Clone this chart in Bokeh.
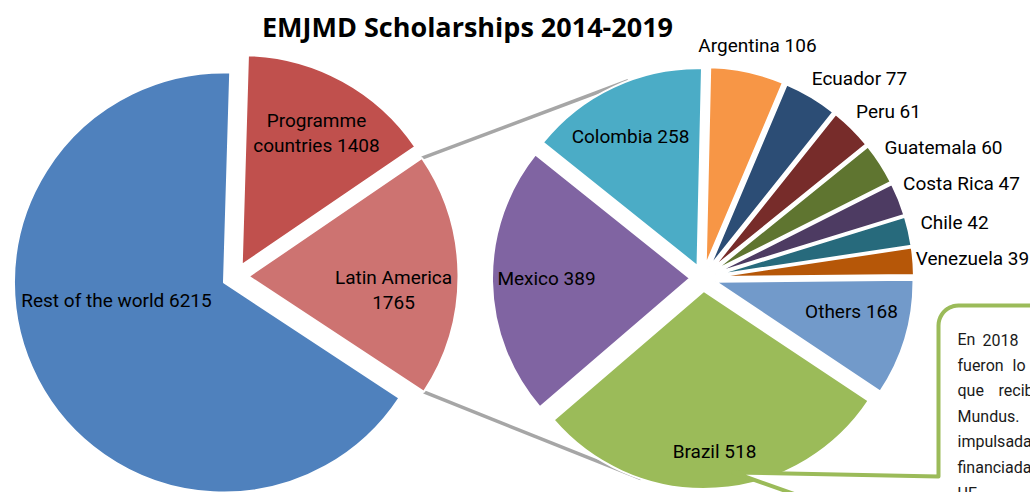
import numpy as np
from bokeh.plotting import figure
from bokeh.models import Range1d, ColumnDataSource
from bokeh.core.properties import value
from bokeh.embed import file_html
from bokeh.resources import INLINE

# ---------------- data ----------------
title = "EMJMD Scholarships 2014-2019"

main_categories = ["Programme countries", "Latin America", "Rest of the world"]
main_values = [1408, 1765, 6215]
main_colors = ["#C0504D", "#CD7371", "#4F81BD"]

latam_categories = ["Argentina", "Ecuador", "Peru", "Guatemala", "Costa Rica",
                    "Chile", "Venezuela", "Others", "Brazil", "Mexico", "Colombia"]
latam_values = [106, 77, 61, 60, 47, 42, 39, 168, 518, 389, 258]
latam_colors = ["#F79646", "#2C4D75", "#772C2A", "#5F7530", "#4D3B62",
                "#276A7C", "#B65708", "#729ACA", "#9BBB59", "#8064A2", "#4BACC6"]

callout_words = [["En", "2018"], ["fueron", "lo"], ["que", "recib"], ["Mundus."],
                 ["impulsada"], ["financiada"], ["UE"]]

# ---------------- layout / style ----------------
W, H = 1030, 492
FONT = "Roboto"


def sy(y):  # screen y -> data y
    return H - y


def slices(values, cx, cy, r, start_deg, explode):
    vals = np.array(values, dtype=float)
    frac = vals / vals.sum()
    lo = start_deg - np.cumsum(frac) * 360.0  # clockwise order
    hi = lo + frac * 360.0
    mid = (lo + hi) / 2.0
    x = cx + explode * np.cos(np.radians(mid))
    y = cy + explode * np.sin(np.radians(mid))
    return dict(x=x, y=y, lo=lo, hi=hi, mid=mid, r=r)


L = slices(main_values, 235, sy(276), 210, 88.3, 13)
R = slices(latam_values, 702.5, sy(277.5), 198, 88.7, 13)

p = figure(width=W, height=H, x_range=Range1d(0, W), y_range=Range1d(0, H),
           min_border=0, toolbar_location=None, output_backend="svg",
           x_axis_type=None, y_axis_type=None, background_fill_color="white",
           border_fill_color="white")
p.grid.visible = False
p.outline_line_color = None

# connector lines (from Latin America slice corners to the secondary pie)
ila = main_categories.index("Latin America")
icol = latam_categories.index("Colombia")
ibra = latam_categories.index("Brazil")
a_hi = np.radians(L["hi"][ila])
a_lo = np.radians(L["lo"][ila])
up_start = (L["x"][ila] + L["r"] * np.cos(a_hi), L["y"][ila] + L["r"] * np.sin(a_hi))
lo_start = (L["x"][ila] + L["r"] * np.cos(a_lo), L["y"][ila] + L["r"] * np.sin(a_lo))
t_up, t_lo = np.radians(110.5), np.radians(251.5)
up_end = (R["x"][icol] + R["r"] * np.cos(t_up), R["y"][icol] + R["r"] * np.sin(t_up))
lo_end = (R["x"][ibra] + R["r"] * np.cos(t_lo), R["y"][ibra] + R["r"] * np.sin(t_lo))
p.segment(x0=[up_start[0], lo_start[0]], y0=[up_start[1], lo_start[1]],
          x1=[up_end[0], lo_end[0]], y1=[up_end[1], lo_end[1]],
          line_color="#A6A6A6", line_width=3.5)

# pies
for S, colors in ((L, main_colors), (R, latam_colors)):
    src = ColumnDataSource(dict(x=S["x"], y=S["y"], s=np.radians(S["lo"]),
                                e=np.radians(S["hi"]), c=colors))
    p.wedge(x="x", y="y", radius=S["r"], start_angle="s", end_angle="e",
            direction="anticlock", fill_color="c", line_color="white",
            line_width=2, source=src)

# callout box (speech bubble)
box_left, box_top, rad = 938, 305, 20
arc_t = np.linspace(np.pi / 2, np.pi, 12)
arc_x = box_left + rad + rad * np.cos(arc_t)
arc_y = box_top + rad - rad * np.sin(arc_t)
px = [1045, box_left + rad] + list(arc_x) + [box_left, box_left, 733, 812, 1045]
py = [box_top, box_top] + list(arc_y) + [box_top + rad, 476, 472, 500, 500]
p.patch(x=px, y=[sy(v) for v in py], fill_color="white", line_color="#9BBB59",
        line_width=4, line_join="round")

# callout text (justified lines, cut by the page edge as in the original)
second_x = {0: 982, 1: 1012, 2: 998}
cx_, cy_, ct_ = [], [], []
for i, words in enumerate(callout_words):
    yy = 339 + i * 25.6
    cx_.append(957); cy_.append(sy(yy)); ct_.append(words[0])
    if len(words) > 1:
        cx_.append(second_x[i]); cy_.append(sy(yy)); ct_.append(words[1])
p.text(x=cx_, y=cy_, text=ct_, text_font=value(FONT), text_font_size="16px",
       text_color="#1A1A1A", text_align="left", text_baseline="middle")

# data labels
label_pos = {
    "Programme countries": (316, 120), "Latin America": (393, 277),
    "Rest of the world": (116, 300), "Colombia": (630, 136), "Mexico": (546, 278),
    "Brazil": (714, 451), "Others": (851, 311), "Argentina": (757, 45),
    "Ecuador": (859, 78), "Peru": (888, 111), "Guatemala": (943, 147),
    "Costa Rica": (961, 183), "Chile": (954, 222), "Venezuela": (972, 258),
}
two_line = {"Programme countries": ("Programme", "countries"),
            "Latin America": ("Latin America", "")}
lx, ly, lt = [], [], []
for cats, vals in ((main_categories, main_values), (latam_categories, latam_values)):
    for c, v in zip(cats, vals):
        x0, y0 = label_pos[c]
        if c in two_line:
            a, b = two_line[c]
            second = f"{b} {v}".strip()
            lx += [x0, x0]; ly += [sy(y0), sy(y0 + 25)]; lt += [a, second]
        else:
            lx.append(x0); ly.append(sy(y0)); lt.append(f"{c} {v}")
p.text(x=lx, y=ly, text=lt, text_font=value(FONT), text_font_size="19px",
       text_color="#000000", text_align="center", text_baseline="middle")

# title
p.text(x=[467], y=[sy(26)], text=[title], text_font=value("Open Sans"),
       text_font_size="27px", text_font_style="bold", text_color="#000000",
       text_align="center", text_baseline="middle")

open("out.html", "w").write(file_html(p, INLINE))
